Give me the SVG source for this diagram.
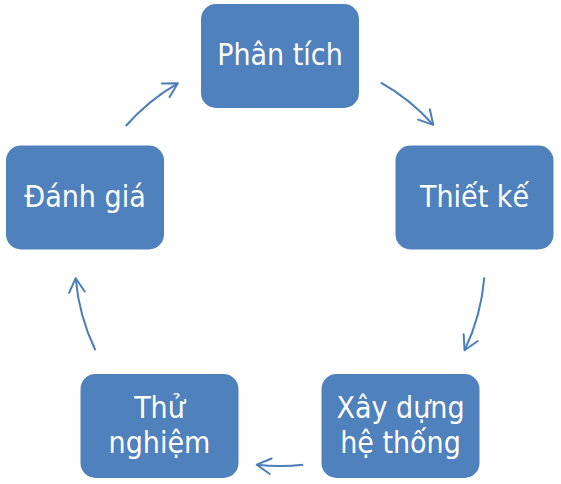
<svg xmlns="http://www.w3.org/2000/svg" width="561" height="484" viewBox="0 0 561 484">
<style>
.box{fill:#4F81BD}
.lbl{fill:#FFFFFF;font-family:"DejaVu Sans Condensed","DejaVu Sans",sans-serif;font-stretch:condensed;font-size:30px;text-anchor:middle}
.arc{fill:none;stroke:#4A7EBB;stroke-width:2;marker-end:url(#head)}
</style>
<defs>
<marker id="head" markerUnits="userSpaceOnUse" viewBox="-17 -10 19 20" markerWidth="19" markerHeight="20" refX="0" refY="0" orient="auto" overflow="visible">
<path d="M-14,-7.8 L0,0 L-14,7.8" fill="none" stroke="#4A7EBB" stroke-width="2" stroke-linecap="round" stroke-linejoin="round"/>
</marker>
</defs>
<g id="connectors">
<path class="arc" d="M125.8,126 A205,205 0 0 1 177.8,83.3"/>
<path class="arc" d="M380.9,82.6 A205,205 0 0 1 433.3,124.9"/>
<path class="arc" d="M484.3,277.4 A205,205 0 0 1 464.6,350.2"/>
<path class="arc" d="M303.2,464.7 A205,205 0 0 1 256.8,464.7"/>
<path class="arc" d="M95.4,350.2 A205,205 0 0 1 75.7,278.2"/>
</g>
<g id="phan-tich">
<rect class="box" x="201" y="4" width="158" height="104" rx="15"/>
<text class="lbl" x="280" y="65">Phân tích</text>
</g>
<g id="thiet-ke">
<rect class="box" x="395.5" y="145.5" width="158" height="104" rx="15"/>
<text class="lbl" x="474.5" y="206.7">Thiết kế</text>
</g>
<g id="xay-dung">
<rect class="box" x="321.5" y="374" width="158" height="104" rx="15"/>
<text class="lbl" x="400.5" y="417.7">Xây dựng</text>
<text class="lbl" x="400.5" y="452.7">hệ thống</text>
</g>
<g id="thu-nghiem">
<rect class="box" x="80.5" y="374" width="158" height="104" rx="15"/>
<text class="lbl" x="159.5" y="417.7">Thử</text>
<text class="lbl" x="159.5" y="452.7">nghiệm</text>
</g>
<g id="danh-gia">
<rect class="box" x="6" y="145.5" width="158" height="104" rx="15"/>
<text class="lbl" x="85" y="206.7">Đánh giá</text>
</g>
</svg>
